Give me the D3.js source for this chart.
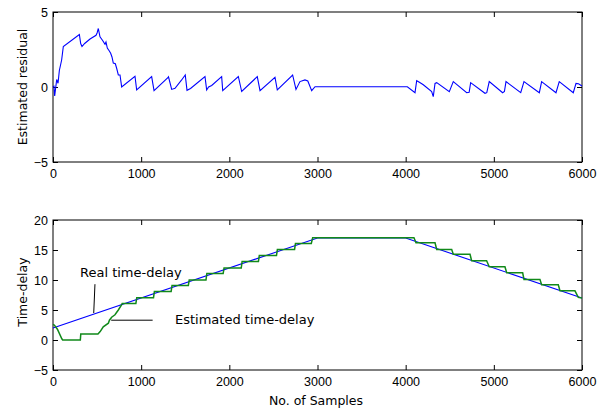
<!DOCTYPE html>
<html>
<head>
<meta charset="utf-8">
<script src="https://cdn.jsdelivr.net/npm/d3@7"></script>
<style>
  body { margin: 0; background: #fff; }
  svg { display: block; font-family: "DejaVu Sans", sans-serif; }
  .tick text { fill: #000; }
</style>
</head>
<body>
<svg id="chart" width="607" height="413"></svg>
<script>
// sample axis shared by both panels
const sampleTicks = [0, 1000, 2000, 3000, 4000, 5000, 6000];
const residualTicks = [-5, 0, 5];
const delayTicks = [-5, 0, 5, 10, 15, 20];

// [sample, estimated residual]
const residual = [
  [0, 0.0], [11, 0.05], [19, -0.6], [42, 0.5], [57, 0.25], [72, 1.1], [98, 1.8], [117, 2.7],
  [299, 3.5], [314, 2.9], [329, 2.7], [359, 2.9], [420, 3.2], [488, 3.45], [500, 3.6], [514, 3.9],
  [533, 3.35], [563, 3.1], [590, 2.85], [601, 3.0], [616, 2.6], [639, 2.4], [654, 2.25], [669, 2.0],
  [684, 1.6], [707, 1.55], [722, 1.25], [741, 0.8], [760, 0.8], [779, 0.0],
  [930, 0.72], [949, -0.2], [1119, 0.69], [1146, -0.24], [1300, 0.6], [1310, 0.68], [1346, -0.16],
  [1384, -0.09], [1459, 0.47], [1500, 0.8], [1520, -0.22], [1560, -0.1], [1724, 0.69], [1743, -0.2],
  [1765, 0.0], [1800, 0.1], [1913, 0.69], [1925, -0.24], [2102, 0.7], [2140, -0.3], [2317, 0.69],
  [2348, -0.24], [2518, 0.64], [2544, -0.2], [2718, 0.8], [2756, -0.16], [2801, 0.36], [2858, 0.47],
  [2890, 0.4], [2934, -0.24], [2972, 0.02], [4019, 0.02],
  [4106, -0.38], [4125, 0.42], [4160, 0.3], [4200, 0.15], [4295, -0.31], [4313, -0.64], [4333, 0.24],
  [4352, 0.29], [4495, -0.31], [4540, 0.36], [4692, -0.38], [4720, -0.35], [4737, 0.29], [4900, -0.42],
  [4920, -0.38], [4948, 0.36], [5100, -0.38], [5120, -0.3], [5138, 0.36], [5305, -0.38], [5342, 0.36],
  [5516, -0.38], [5542, 0.36], [5705, -0.38], [5742, 0.36], [5901, -0.38], [5932, 0.24], [5960, 0.22],
  [6000, 0.07]
];

// [sample, time-delay]
const realDelay = [[0, 2], [3000, 17], [4000, 17], [6000, 7]];

const estimatedDelay = [
  [0, 2.6], [15, 2.5], [50, 1.8], [100, 0.2], [110, 0], [310, 0], [315, 1.0], [510, 1.0], [535, 1.4],
  [570, 2.2], [628, 2.8], [640, 3.3], [665, 3.8], [703, 4.2], [741, 5.0], [779, 5.9], [785, 6.1],
  [940, 6.1], [950, 7.05], [1140, 7.05], [1150, 8.1], [1340, 8.1], [1350, 9.1], [1535, 9.1],
  [1545, 10.0], [1735, 10.0], [1745, 11.1], [1930, 11.1], [1940, 12.0], [2135, 12.0], [2145, 13.1],
  [2330, 13.1], [2340, 14.1], [2535, 14.1], [2545, 15.1], [2740, 15.1], [2750, 16.1], [2930, 16.1],
  [2945, 17.05], [4094, 17.05], [4117, 16.2], [4333, 16.2], [4352, 15.1], [4522, 15.1], [4540, 14.3],
  [4730, 14.3], [4748, 13.2], [4918, 13.2], [4948, 12.2], [5126, 12.2], [5146, 11.2], [5327, 11.2],
  [5342, 10.1], [5523, 10.1], [5542, 9.2], [5731, 9.2], [5750, 8.2], [5920, 8.2], [5958, 7.1],
  [6000, 7.0]
];

const svg = d3.select('#chart');
const left = 53, right = 582;

function panel(top, bottom, yDomain, yTicks, yLabel, labelY) {
  const x = d3.scaleLinear().domain([0, 6000]).range([left, right]);
  const y = d3.scaleLinear().domain(yDomain).range([bottom, top]);
  const g = svg.append('g');
  const tickLen = 5;

  // bottom & top axes (ticks inside)
  g.append('g').attr('transform', `translate(0,${bottom})`)
    .call(d3.axisBottom(x).tickValues(sampleTicks).tickFormat(d3.format('d'))
      .tickSizeInner(-tickLen).tickSizeOuter(0).tickPadding(12))
    .call(a => a.selectAll('text').attr('font-size', 12.5).attr('dy', '0.35em'));
  g.append('g').attr('transform', `translate(0,${top})`)
    .call(d3.axisTop(x).tickValues(sampleTicks).tickSizeInner(-tickLen).tickSizeOuter(0).tickFormat(''));
  // left & right axes
  g.append('g').attr('transform', `translate(${left},0)`)
    .call(d3.axisLeft(y).tickValues(yTicks).tickFormat(d3.format('d'))
      .tickSizeInner(-tickLen).tickSizeOuter(0).tickPadding(5))
    .call(a => a.selectAll('text').attr('font-size', 12.5));
  g.append('g').attr('transform', `translate(${right},0)`)
    .call(d3.axisRight(y).tickValues(yTicks).tickSizeInner(-tickLen).tickSizeOuter(0).tickFormat(''));
  g.selectAll('.domain').remove();
  g.selectAll('.tick line').attr('stroke', '#000');

  g.append('rect')
    .attr('x', left).attr('y', top)
    .attr('width', right - left).attr('height', bottom - top)
    .attr('fill', 'none').attr('stroke', '#000').attr('stroke-width', 1);

  svg.append('text')
    .attr('transform', `translate(23,${labelY}) rotate(-90)`)
    .attr('text-anchor', 'middle').attr('dy', '0.35em')
    .attr('font-size', 12.5)
    .text(yLabel);

  return { x, y, g };
}

const p1 = panel(12, 162, [-5, 5], residualTicks, 'Estimated residual', 87);
const p2 = panel(220, 370, [-5, 20], delayTicks, 'Time-delay', 292);

const line1 = d3.line().x(d => p1.x(d[0])).y(d => p1.y(d[1]));
p1.g.append('path').datum(residual)
  .attr('d', line1).attr('fill', 'none').attr('stroke', '#0000ff').attr('stroke-width', 1.1);

const line2 = d3.line().x(d => p2.x(d[0])).y(d => p2.y(d[1]));
p2.g.append('path').datum(realDelay)
  .attr('d', line2).attr('fill', 'none').attr('stroke', '#0000ff').attr('stroke-width', 1.1);
p2.g.append('path').datum(estimatedDelay)
  .attr('d', line2).attr('fill', 'none').attr('stroke', '#11891a').attr('stroke-width', 1.5);

// annotations
const ann = svg.append('g').attr('font-size', 13).attr('fill', '#000');
ann.append('text').attr('x', 80).attr('y', 277).text('Real time-delay');
ann.append('line')
  .attr('x1', p2.x(476)).attr('y1', p2.y(9.3))
  .attr('x2', p2.x(462)).attr('y2', p2.y(4.5))
  .attr('stroke', '#000');
ann.append('text').attr('x', 175).attr('y', 324).text('Estimated time-delay');
ann.append('line')
  .attr('x1', p2.x(660)).attr('y1', p2.y(3.3))
  .attr('x2', p2.x(1130)).attr('y2', p2.y(3.3))
  .attr('stroke', '#000');

svg.append('text')
  .attr('x', 316).attr('y', 405)
  .attr('text-anchor', 'middle').attr('font-size', 12.5)
  .text('No. of Samples');
</script>
</body>
</html>
